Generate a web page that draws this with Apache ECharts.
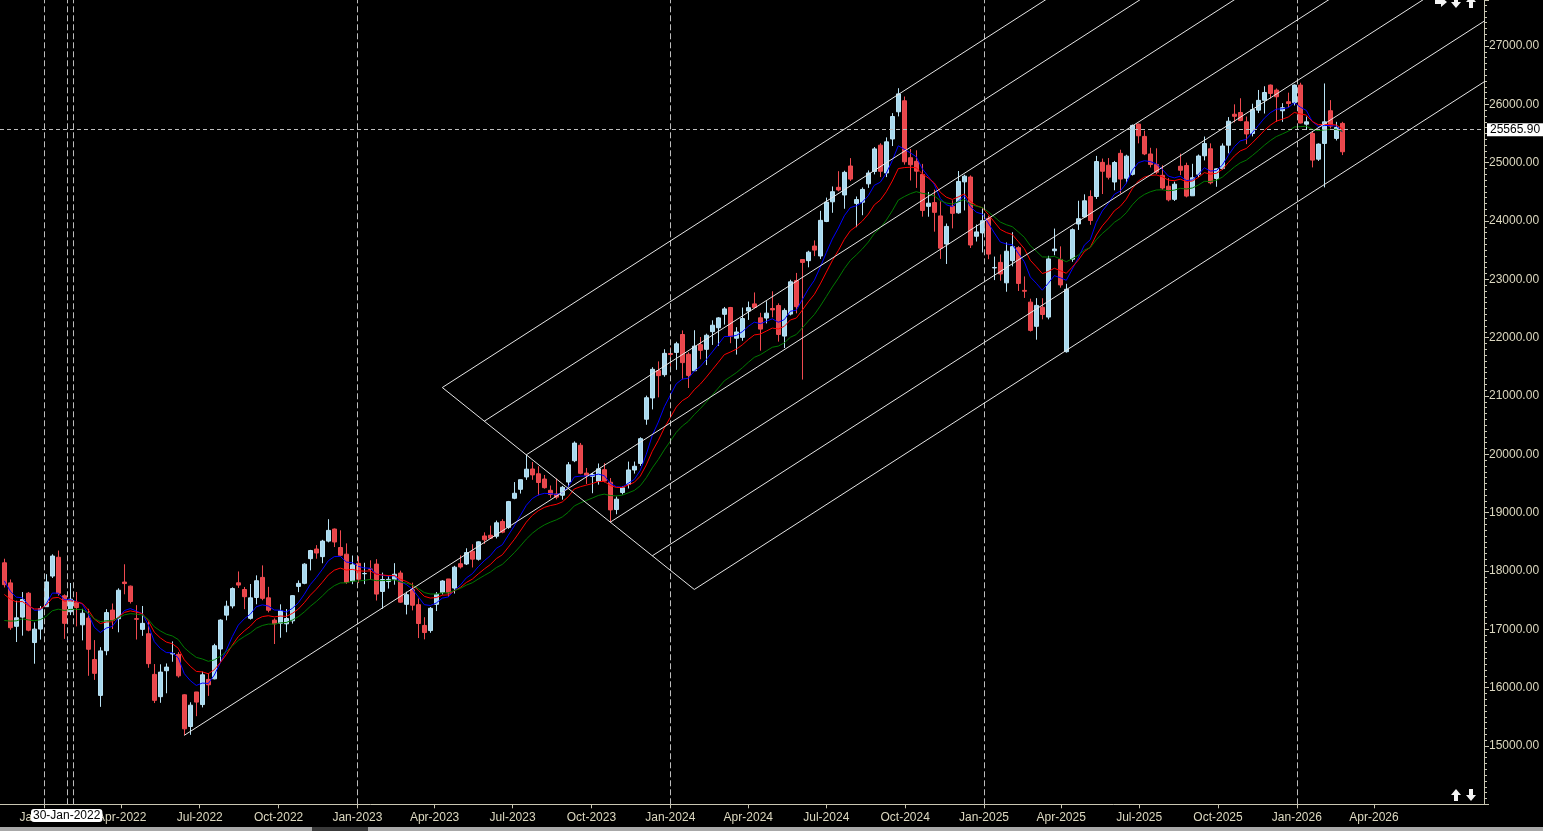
<!DOCTYPE html>
<html><head><meta charset="utf-8">
<script src="https://cdn.jsdelivr.net/npm/echarts@6/dist/echarts.min.js"></script>
<style>html,body{margin:0;padding:0;background:#000;overflow:hidden}#c{width:1543px;height:831px}</style>
</head><body><div id="c"></div>
<script>
// ---------- DATA ----------
const weekDates = ['2021-11-15','2021-11-22','2021-11-29','2021-12-06','2021-12-13','2021-12-20','2021-12-27',
'2022-01-03','2022-01-10','2022-01-17','2022-01-24','2022-01-31','2022-02-07','2022-02-14','2022-02-21','2022-02-28',
'2022-03-07','2022-03-14','2022-03-21','2022-03-28','2022-04-04','2022-04-11','2022-04-18','2022-04-25','2022-05-02',
'2022-05-09','2022-05-16','2022-05-23','2022-05-30','2022-06-06','2022-06-13','2022-06-20','2022-06-27','2022-07-04',
'2022-07-11','2022-07-18','2022-07-25','2022-08-01','2022-08-08','2022-08-15','2022-08-22','2022-08-29','2022-09-05',
'2022-09-12','2022-09-19','2022-09-26','2022-10-03','2022-10-10','2022-10-17','2022-10-24','2022-10-31','2022-11-07',
'2022-11-14','2022-11-21','2022-11-28','2022-12-05','2022-12-12','2022-12-19','2022-12-26',
'2023-01-02','2023-01-09','2023-01-16','2023-01-23','2023-01-30','2023-02-06','2023-02-13','2023-02-20','2023-02-27',
'2023-03-06','2023-03-13','2023-03-20','2023-03-27','2023-04-03','2023-04-10','2023-04-17','2023-04-24','2023-05-01',
'2023-05-08','2023-05-15','2023-05-22','2023-05-29','2023-06-05','2023-06-12','2023-06-19','2023-06-26','2023-07-03',
'2023-07-10','2023-07-17','2023-07-24','2023-07-31','2023-08-07','2023-08-14','2023-08-21','2023-08-28','2023-09-04',
'2023-09-11','2023-09-18','2023-09-25','2023-10-02','2023-10-09','2023-10-16','2023-10-23','2023-10-30','2023-11-06',
'2023-11-13','2023-11-20','2023-11-27','2023-12-04','2023-12-11','2023-12-18','2023-12-25',
'2024-01-01','2024-01-08','2024-01-15','2024-01-22','2024-01-29','2024-02-05','2024-02-12','2024-02-19','2024-02-26',
'2024-03-04','2024-03-11','2024-03-18','2024-03-25','2024-04-01','2024-04-08','2024-04-15','2024-04-22','2024-04-29',
'2024-05-06','2024-05-13','2024-05-20','2024-05-27','2024-06-03','2024-06-10','2024-06-17','2024-06-24','2024-07-01',
'2024-07-08','2024-07-15','2024-07-22','2024-07-29','2024-08-05','2024-08-12','2024-08-19','2024-08-26','2024-09-02',
'2024-09-09','2024-09-16','2024-09-23','2024-09-30','2024-10-07','2024-10-14','2024-10-21','2024-10-28','2024-11-04',
'2024-11-11','2024-11-18','2024-11-25','2024-12-02','2024-12-09','2024-12-16','2024-12-23','2024-12-30',
'2025-01-06','2025-01-13','2025-01-20','2025-01-27','2025-02-03','2025-02-10','2025-02-17','2025-02-24','2025-03-03',
'2025-03-10','2025-03-17','2025-03-24','2025-03-31','2025-04-07','2025-04-14','2025-04-21','2025-04-28','2025-05-05',
'2025-05-12','2025-05-19','2025-05-26','2025-06-02','2025-06-09','2025-06-16','2025-06-23','2025-06-30','2025-07-07',
'2025-07-14','2025-07-21','2025-07-28','2025-08-04','2025-08-11','2025-08-18','2025-08-25','2025-09-01','2025-09-08',
'2025-09-15','2025-09-22','2025-09-29','2025-10-06','2025-10-13','2025-10-20','2025-10-27','2025-11-03','2025-11-10',
'2025-11-17','2025-11-24','2025-12-01','2025-12-08','2025-12-15','2025-12-22','2025-12-29',
'2026-01-05','2026-01-12','2026-01-19','2026-01-26','2026-02-02','2026-02-09','2026-02-16','2026-02-23'];

const openPrices = [18140,17796,17051,17209,17619,16773,17004,
17388,17913,18235,17575,17301,17456,17077,17192,16481,15867,16633,17329,17181,17810,17740,17183,16999,16924,
16227,15845,16290,16578,16570,15877,15334,15926,15710,16141,16151,16662,17243,17401,17797,17682,17188,17546,
17890,17540,17157,17102,17094,17145,17736,17788,18211,18376,18246,18512,18719,18402,18288,17830,
18131,17953,18033,18118,17649,17818,17859,17965,17428,17680,17422,17066,16978,17428,17634,17863,17707,18124,
18120,18339,18201,18600,18612,18595,18849,18748,19246,19400,19612,19748,19666,19576,19383,19320,19298,19525,
19890,20155,19678,19622,19539,19737,19521,19053,19346,19486,19731,19844,20602,20966,21435,21365,
21728,21747,22054,21716,21433,21880,21800,22103,22170,22400,22517,21990,22005,22456,22579,22340,22336,22500,
22550,22027,22404,22977,23338,23320,23570,23400,23992,24329,24577,24446,24943,24302,24321,24637,24850,25300,
24823,25406,25872,26061,25085,25023,24798,24251,24315,24087,23605,24253,24140,24671,24754,23738,23796,
24045,23195,23290,22940,23320,23543,22810,22609,22194,22521,22353,23490,23341,21759,23344,23949,24070,24419,
24420,25005,24956,24669,25160,24733,24800,25661,25450,25149,24970,24783,24596,24371,24938,24950,24432,24802,
25118,25238,24729,24899,25300,25830,25860,25700,25500,25900,26070,26330,26244,25890,26044,26030,
26330,25660,25501,25060,25330,25890,25416,25673];

const highPrices = [18210,17855,17490,17639,17640,17118,17400,
17945,18286,18350,17599,17794,17640,17351,17351,16815,16694,17345,17442,17703,18115,17750,17414,17400,17132,
16404,16400,16415,16793,16610,15886,15749,15927,16275,16248,16752,17172,17490,17719,17992,17726,17777,17925,
18096,17728,17188,17428,17348,17585,17838,18133,18362,18443,18534,18888,18728,18697,18473,18265,
18251,18141,18183,18202,17972,17917,18134,18005,17645,17800,17529,17207,17381,17638,17842,17863,18089,18267,
18389,18458,18508,18662,18777,18864,18887,19201,19524,19567,19991,19868,19795,19646,19465,19584,19458,19867,
20222,20195,19766,19680,19843,19849,19593,19276,19451,19875,19876,20292,21006,21493,21593,21801,
21834,21929,22124,21750,22127,22011,22068,22297,22353,22526,22527,22180,22516,22619,22775,22427,22625,22795,
22588,22502,22993,23110,23339,23490,23667,24174,24401,24592,24854,24862,25078,24420,24575,24867,25268,25333,
25433,25849,26277,26134,25234,25212,24979,24498,24537,24336,23957,24354,24857,24792,24782,23939,24226,
24089,23390,23426,23632,23807,23569,23050,22668,22677,22676,23403,23870,23565,22923,23873,24347,24457,24526,
25116,25070,25079,25030,25222,25136,25654,25669,25549,25255,25246,24956,24734,24674,25154,25000,24980,25140,
25448,25331,24904,25330,25781,26000,26104,25790,26010,26246,26310,26340,26272,26020,26200,26340,
26370,25790,25530,25330,26358,26072,25700,25700];

const lowPrices = [17717,16990,16782,16891,16966,16410,16824,
17383,17880,17577,16836,17244,17050,16810,16203,16133,15671,16555,17006,16949,17600,17442,16825,16888,16340,
15736,15740,15903,16444,16172,15183,15191,15511,15661,15858,16143,16438,17154,17359,17710,17345,17166,17429,
17498,17291,16748,16855,16950,17098,17637,17773,18010,18210,18133,18490,18410,18255,17779,17774,
17795,17774,17853,17493,17353,17698,17765,17455,17255,17324,16850,16828,16940,17313,17597,17553,17613,18042,
18102,18060,18178,18464,18555,18558,18647,18722,19230,19327,19562,19563,19296,19412,19254,19229,19223,19432,
19866,19658,19492,19333,19480,19518,18837,18973,19311,19414,19670,19802,20507,20770,20977,21330,
21501,21448,21285,21137,21429,21629,21530,21875,21860,22224,21905,21710,21947,22304,22503,21777,22244,22348,
21932,21822,22381,22417,21281,23206,23398,23350,23980,24141,24508,24210,24686,23894,24099,24568,24799,24753,
24753,25285,25793,24966,24694,24567,24074,24073,23817,23350,23263,23873,24125,24181,23537,23648,23461,
23345,22987,22976,22787,23222,22800,22681,22105,21965,22314,22314,23412,22857,21743,23300,23847,24054,23935,
24378,24462,24712,24526,24473,24648,24780,25331,25129,24918,24806,24535,24337,24344,24787,24405,24432,24751,
25038,24629,24587,24880,25160,25690,25711,25318,25450,25850,25842,26100,25700,25700,25950,25980,
25673,25560,24919,25030,24576,25587,25380,25130];

const closePrices = [17765,17027,17197,17511,16985,17003,17354,
17813,18256,17617,17102,17516,17374,17276,16658,16245,16630,17287,17153,17670,17784,17476,17172,17102,16411,
15782,16266,16352,16584,16202,15294,15699,15752,16220,16049,16719,17158,17397,17698,17758,17559,17539,17833,
17531,17327,17094,17315,17186,17577,17787,18117,18350,18308,18512,18696,18497,18269,17806,18105,
17859,17957,18028,17604,17854,17856,17944,17466,17594,17413,17100,16945,17360,17600,17828,17624,18065,18069,
18315,18203,18499,18534,18563,18826,18665,19189,19332,19565,19745,19647,19517,19428,19310,19266,19435,19820,
20192,19674,19638,19654,19751,19542,19047,19231,19425,19732,19795,20268,20970,21457,21349,21731,
21711,21895,21572,21353,21854,21783,22041,22213,22339,22493,22023,22097,22327,22514,22519,22147,22420,22476,
22055,22467,22957,22531,23290,23466,23501,24011,24324,24502,24531,24834,24718,24367,24541,24823,25236,24852,
25357,25791,26179,25015,24964,24854,24181,24305,24148,23533,23907,24131,24678,24768,23588,23813,24005,
23432,23203,23092,23482,23560,22930,22796,22125,22553,22397,23350,23519,22904,22829,23851,24039,24346,24008,
25019,24853,24750,25003,24719,25112,25638,25461,25150,24968,24837,24565,24363,24631,24870,24427,24741,25114,
25327,24655,24894,25285,25710,25795,25722,25492,25910,26068,26203,26187,26130,25941,26015,26330,
25680,25700,25044,25318,25700,25627,25604,25187];

const emaPeriods = [8, 13, 21];
const emaSeeds = [17850, 17570, 17090];          // values read at the left edge
const emaColors = ['#0000ff', '#ff0000', '#007a00'];

const quarterTicks = ['2022-01-01','2022-04-01','2022-07-01','2022-10-01','2023-01-01','2023-04-01','2023-07-01',
'2023-10-01','2024-01-01','2024-04-01','2024-07-01','2024-10-01','2025-01-01','2025-04-01','2025-07-01','2025-10-01',
'2026-01-01','2026-04-01'];
const monthNames = ['Jan','Feb','Mar','Apr','May','Jun','Jul','Aug','Sep','Oct','Nov','Dec'];
const separatorDates = ['2022-01-01','2022-01-27T12:00','2022-02-03T12:00','2023-01-01','2024-01-01','2025-01-01','2026-01-01'];
const lastPrice = 25565.90;
const cursorDateText = '30-Jan-2022';

const pitchforkPivot = ['2022-06-13', 15183];
const pitchforkHigh = ['2023-07-17', 19991];
const pitchforkLow = ['2023-10-23', 18837];
const pitchforkLevels = [-3, -2, -1, 1, 2, 3];
const pitchforkEnd = '2027-06-01';

// ---------- helpers ----------
function ts(s) {
  const parts = s.split('T');
  const d = parts[0].split('-').map(Number);
  let h = 0, m = 0;
  if (parts[1]) { const t = parts[1].split(':').map(Number); h = t[0]; m = t[1]; }
  return Date.UTC(d[0], d[1] - 1, d[2], h, m);
}
const DAY = 864e5;
const origin = ts(weekDates[0]);
// layout: first bar centre at 4.3px, 6px per week, plot 0..1484px
const xMin = origin - (4.3 * 7 / 6) * DAY;
const xMax = xMin + (1484 * 7 / 6) * DAY;

const candles = weekDates.map((d, i) => [ts(d), openPrices[i], closePrices[i], lowPrices[i], highPrices[i]]);

function ema(period, seed) {
  const a = 2 / (period + 1);
  let prev = seed;
  return closePrices.map(c => (prev = prev + a * (c - prev)));
}

const pv = [ts(pitchforkPivot[0]), pitchforkPivot[1]];
const hi = [ts(pitchforkHigh[0]), pitchforkHigh[1]];
const lo = [ts(pitchforkLow[0]), pitchforkLow[1]];
const mid = [(hi[0] + lo[0]) / 2, (hi[1] + lo[1]) / 2];
const slope = (mid[1] - pv[1]) / (mid[0] - pv[0]);
const half = [lo[0] - mid[0], lo[1] - mid[1]];
const tEnd = ts(pitchforkEnd);
const forkLines = [];
forkLines.push([[pv[0], pv[1]], [tEnd, pv[1] + slope * (tEnd - pv[0])]]);
pitchforkLevels.forEach(k => {
  const s = [mid[0] + k * half[0], mid[1] + k * half[1]];
  forkLines.push([s, [tEnd, s[1] + slope * (tEnd - s[0])]]);
});
const kMin = Math.min.apply(null, pitchforkLevels), kMax = Math.max.apply(null, pitchforkLevels);
forkLines.push([[mid[0] + kMin * half[0], mid[1] + kMin * half[1]], [mid[0] + kMax * half[0], mid[1] + kMax * half[1]]]);

const axisColor = '#c9c6b2';
const labelColor = '#dcd8c0';
const qTickValues = quarterTicks.map(ts);

const series = [];
series.push({
  type: 'line', data: [], silent: true, z: 1,
  markLine: {
    silent: true, symbol: 'none', animation: false,
    lineStyle: { color: '#bdbdbd', type: [6, 3], width: 1 },
    label: { show: false },
    data: separatorDates.map(d => ({ xAxis: ts(d) }))
  }
});
series.push({
  type: 'candlestick', data: candles, barWidth: 4, z: 3,
  itemStyle: { color: '#a9d9ee', color0: '#e8474c', borderColor: '#b9e3f5', borderColor0: '#f04a50', borderWidth: 1 }
});
emaPeriods.forEach((p, j) => {
  const vals = ema(p, emaSeeds[j]);
  series.push({
    type: 'line', data: weekDates.map((d, i) => [ts(d), vals[i]]), showSymbol: false, symbol: 'none',
    silent: true, z: 4, lineStyle: { color: emaColors[j], width: 1 }
  });
});
forkLines.forEach(l => {
  series.push({
    type: 'line', data: l, showSymbol: false, symbol: 'none', silent: true, z: 5, clip: true,
    lineStyle: { color: '#e6e6e6', width: 1 }
  });
});
series.push({
  type: 'line', data: [], silent: true, z: 6,
  markLine: {
    silent: true, symbol: 'none', animation: false,
    lineStyle: { color: '#bdbdbd', type: [4, 3], width: 1 },
    label: { show: true, position: 'end', formatter: lastPrice.toFixed(2), color: '#000', backgroundColor: '#fff',
      padding: [1, 3, 0, 3], fontSize: 12, fontFamily: 'Liberation Sans', distance: 3 },
    data: [{ yAxis: lastPrice }]
  }
});

// small navigation arrow icons (UI decoration)
function arrow(dir, cx, cy) {
  const up = [[0,-6],[5,0],[2,0],[2,6],[-2,6],[-2,0],[-5,0]];
  const pts = up.map(p => {
    if (dir === 'up') return [cx + p[0], cy + p[1]];
    if (dir === 'down') return [cx + p[0], cy - p[1]];
    return [cx - p[1], cy + p[0]]; // right
  });
  return { type: 'polygon', z: 100, shape: { points: pts }, style: { fill: '#f4f4f4' } };
}

const chart = echarts.init(document.getElementById('c'), null, { renderer: 'canvas' });
chart.setOption({
  animation: false,
  backgroundColor: '#000',
  grid: { left: 0, right: 59, top: 0, bottom: 26.7, containLabel: false },
  xAxis: {
    type: 'value', min: xMin, max: xMax, scale: true,
    axisLine: { show: true, onZero: false, lineStyle: { color: axisColor } },
    axisTick: { show: true, customValues: qTickValues, length: 4, lineStyle: { color: axisColor } },
    axisLabel: {
      customValues: qTickValues, color: labelColor, fontSize: 12, fontFamily: 'Liberation Sans', margin: 7,
      formatter: v => { const d = new Date(v); return monthNames[d.getUTCMonth()] + '-' + d.getUTCFullYear(); }
    },
    splitLine: { show: false }
  },
  yAxis: {
    type: 'value', position: 'right', min: 14000, max: 27788.6, interval: 1000,
    axisLine: { show: true, lineStyle: { color: axisColor } },
    axisTick: { show: true, length: 5, lineStyle: { color: axisColor } },
    minorTick: { show: true, splitNumber: 10, length: 3, lineStyle: { color: axisColor } },
    axisLabel: { color: labelColor, fontSize: 12, fontFamily: 'Liberation Sans', margin: 5,
      showMinLabel: false, showMaxLabel: false, formatter: v => v.toFixed(2) },
    splitLine: { show: false }
  },
  series: series,
  graphic: [
    { type: 'text', left: 31, top: 809, z: 100,
      style: { text: cursorDateText, fill: '#000', backgroundColor: '#fff', padding: [1, 2, 0, 2], borderRadius: 3,
        font: '12px "Liberation Sans"' } },
    arrow('right', 1441, 2), arrow('down', 1456, 2), arrow('up', 1471, 2),
    arrow('up', 1456, 795), arrow('down', 1471, 795),
    { type: 'rect', left: 0, top: 827, z: 100, shape: { width: 1543, height: 4 }, style: { fill: '#a8a8a8' } },
    { type: 'rect', left: 312, top: 827, z: 101, shape: { width: 56, height: 4 }, style: { fill: '#3a3a3a' } }
  ]
});
</script></body></html>
